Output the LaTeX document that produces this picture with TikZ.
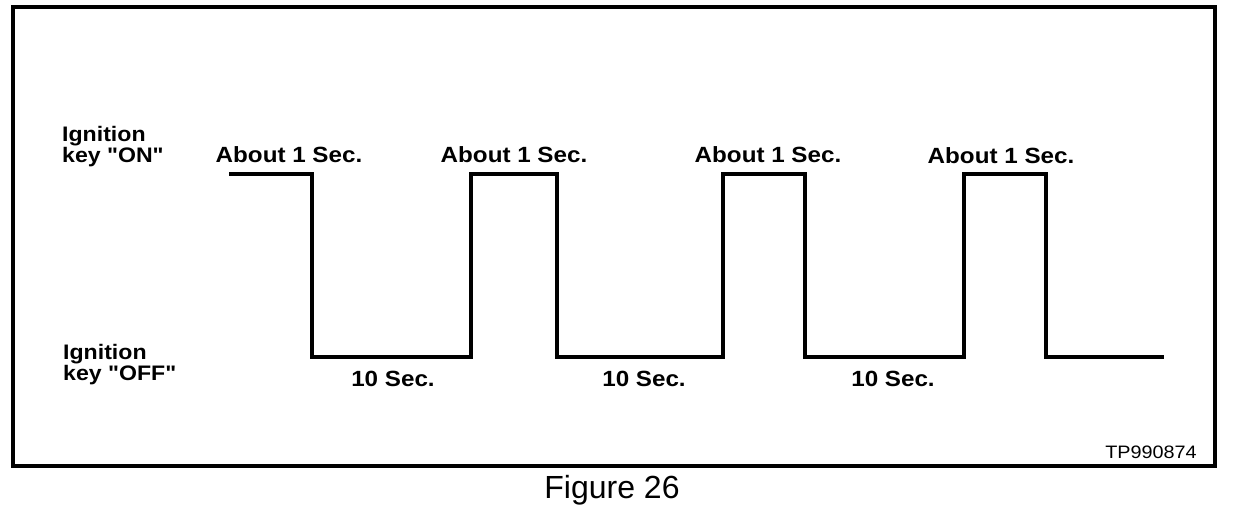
\documentclass[tikz,border=0pt]{standalone}
\usepackage{fontspec}
\setmainfont{Liberation Sans}
\newfontfamily\labfont[FakeStretch=1.1]{Liberation Sans}
\begin{document}
\begin{tikzpicture}[x=1pt,y=-1pt,
  frame/.style={line width=3.5pt},
  wave/.style={line width=3.5pt, line join=miter},
  lab/.style={font=\labfont\bfseries\fontsize{22}{22}\selectfont, inner sep=0pt, anchor=base},
  side/.style={font=\labfont\bfseries\fontsize{21}{21}\selectfont, inner sep=0pt, anchor=base west, align=left},
  code/.style={font=\labfont\fontsize{18}{18}\selectfont, inner sep=0pt, anchor=base},
  figcaption/.style={font=\fontsize{32}{32}\selectfont, inner sep=0pt, anchor=base}]
\useasboundingbox (0,0) rectangle (1248,512);
\draw[frame] (13,7) rectangle (1215,466);
% waveform corners
\coordinate (s)  at (229,174);
\coordinate (a1) at (312,174); \coordinate (a2) at (312,357);
\coordinate (b1) at (471,357); \coordinate (b2) at (471,174);
\coordinate (c1) at (557,174); \coordinate (c2) at (557,357);
\coordinate (d1) at (723,357); \coordinate (d2) at (723,174);
\coordinate (e1) at (805,174); \coordinate (e2) at (805,357);
\coordinate (f1) at (964,357); \coordinate (f2) at (964,174);
\coordinate (g1) at (1046,174); \coordinate (g2) at (1046,357);
\coordinate (t)  at (1164,357);
\draw[wave] (s) -- (a1) -- (a2) -- (b1) -- (b2) -- (c1) -- (c2) -- (d1) -- (d2) -- (e1) -- (e2) -- (f1) -- (f2) -- (g1) -- (g2) -- (t);
% labels
\node[side] (on) at (62,162) {Ignition\\[0pt]key "ON"};
\node[side] (off) at (63,380) {Ignition\\[0pt]key "OFF"};
\node[lab] (h1) at (289,162) {About 1 Sec.};
\node[lab] (h2) at (514,162) {About 1 Sec.};
\node[lab] (h3) at (768,162) {About 1 Sec.};
\node[lab] (h4) at (1001,163) {About 1 Sec.};
\node[lab] (l1) at (393,386) {10 Sec.};
\node[lab] (l2) at (644,386) {10 Sec.};
\node[lab] (l3) at (893,386) {10 Sec.};
\node[code] (tp) at (1151,458) {TP990874};
\node[figcaption] (fig) at (612,498) {Figure 26};
\end{tikzpicture}
\end{document}
